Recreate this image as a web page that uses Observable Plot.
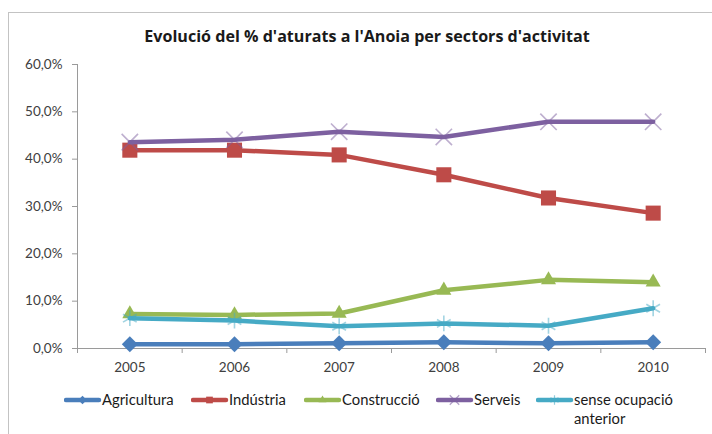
<!DOCTYPE html>
<html><head><meta charset="utf-8">
<script src="https://cdn.jsdelivr.net/npm/d3@7"></script>
<script src="https://cdn.jsdelivr.net/npm/@observablehq/plot@0.6"></script>
<style>
html,body{margin:0;padding:0;background:#fff}
body{width:712px;height:434px;overflow:hidden;position:relative;font-family:Lato,"Open Sans",sans-serif;color:#404040}
#frame{position:absolute;left:8px;top:12px;width:730px;height:450px;border:1.5px solid #c3c3c3;box-sizing:border-box}
#title{position:absolute;left:0;top:25px;width:734px;text-align:center;font-family:"Open Sans",sans-serif;font-weight:bold;font-size:16.1px;line-height:22px;color:#1a1a1a}
#chart{position:absolute;left:0;top:50px}
.leg{position:absolute;top:390px;font-size:14.8px;line-height:19px;color:#1a1a1a}
.leg svg{position:absolute;top:3px}
.leg span{position:absolute;white-space:nowrap}
</style></head><body>
<div id="frame"></div>
<div id="title">Evolució del % d'aturats a l'Anoia per sectors d'activitat</div>
<div id="chart"></div>
<div id="legend"></div>
<script>
const years = [2005, 2006, 2007, 2008, 2009, 2010];
const seriesNames = ["Agricultura", "Indústria", "Construcció", "Serveis", "sense ocupació anterior"];
const agricultura = [0.009, 0.009, 0.011, 0.013, 0.011, 0.013];
const industria = [0.419, 0.419, 0.409, 0.367, 0.318, 0.286];
const construccio = [0.073, 0.071, 0.074, 0.123, 0.145, 0.140];
const serveis = [0.436, 0.441, 0.458, 0.447, 0.479, 0.479];
const senseOcupacio = [0.064, 0.059, 0.047, 0.053, 0.048, 0.085];
const yTicks = [0, 0.1, 0.2, 0.3, 0.4, 0.5, 0.6];

const colors = ["#4A7EBB", "#BE4B48", "#98B954", "#7D60A0", "#46AAC5"];
const symbols = ["diamond2", "square", "triangle2", "times", "asterisk"];
const values = [agricultura, industria, construccio, serveis, senseOcupacio];

const data = [];
seriesNames.forEach((s, i) => years.forEach((y, j) => data.push({series: s, idx: i, year: y, value: values[i][j]})));

const bounds = d3.range(years.length + 1).map(i => years[0] - 0.5 + i);

const marks = [
  Plot.ruleX([bounds[0]], {y1: 0, y2: 0.6, stroke: "#9a9a9a", strokeWidth: 1}),
  Plot.ruleY([0], {x1: bounds[0], x2: bounds[bounds.length - 1], stroke: "#9a9a9a", strokeWidth: 1}),
  Plot.axisY({ticks: yTicks, tickSize: 5, tickPadding: 10, stroke: "#9a9a9a", fill: "#404040",
    tickFormat: d => (d * 100).toFixed(1).replace(".", ",") + "%", label: null, fontSize: 13.5}),
  Plot.axisX({ticks: bounds, tickSize: 5, stroke: "#9a9a9a", tickFormat: () => "", label: null}),
  Plot.axisX({ticks: years, tickSize: 0, tickPadding: 14, fill: "#404040", tickFormat: d => String(d), label: null, fontSize: 13.5})
];
seriesNames.forEach((s, i) => {
  const d = data.filter(r => r.idx === i);
  marks.push(Plot.line(d, {x: "year", y: "value", stroke: colors[i], strokeWidth: 4.5, strokeLinejoin: "round", strokeLinecap: "round"}));
  if (i < 3) {
    marks.push(Plot.dot(d, {x: "year", y: "value", symbol: () => symbols[i], fill: colors[i], stroke: "none", r: i === 1 ? 8.5 : 7.2}));
  } else {
    marks.push(Plot.dot(d, {x: "year", y: "value", symbol: () => symbols[i], stroke: colors[i], strokeOpacity: 0.5, strokeWidth: 1.6, fill: "none", r: 7.5}));
  }
});

const chart = Plot.plot({
  width: 712, height: 330,
  marginLeft: 77, marginRight: 7, marginTop: 14, marginBottom: 32,
  style: {fontFamily: "Lato, 'Open Sans', sans-serif", fontSize: "13.5px", background: "transparent", color: "#404040"},
  x: {type: "linear", domain: [bounds[0], bounds[bounds.length - 1]]},
  y: {domain: [0, 0.6]},
  symbol: {type: "identity"},
  marks
});
document.getElementById("chart").appendChild(chart);

// legend
const legX = [64, 191, 304, 436, 536];
const legend = document.getElementById("legend");
seriesNames.forEach((s, i) => {
  const div = document.createElement("div");
  div.className = "leg";
  div.style.left = legX[i] + "px";
  const svg = d3.create("svg").attr("width", 38).attr("height", 14).attr("viewBox", "0 0 38 14");
  svg.append("line").attr("x1", 2).attr("x2", 35).attr("y1", 7).attr("y2", 7)
    .attr("stroke", colors[i]).attr("stroke-width", 4.5).attr("stroke-linecap", "round");
  const symMap = [d3.symbolDiamond2, d3.symbolSquare, d3.symbolTriangle2, d3.symbolTimes, d3.symbolAsterisk];
  const p = svg.append("path").attr("transform", "translate(18.5,7)")
    .attr("d", d3.symbol(symMap[i], i < 3 ? 45 : 60)());
  if (i < 3) p.attr("fill", colors[i]);
  else p.attr("fill", "none").attr("stroke", colors[i]).attr("stroke-width", 1.2).attr("stroke-opacity", 0.6);
  div.appendChild(svg.node());
  const sp = document.createElement("span");
  sp.style.left = "38px";
  sp.style.top = "0px";
  if (i === 4) sp.innerHTML = "sense ocupació<br>anterior";
  else sp.textContent = s;
  div.appendChild(sp);
  legend.appendChild(div);
});
</script>
</body></html>
